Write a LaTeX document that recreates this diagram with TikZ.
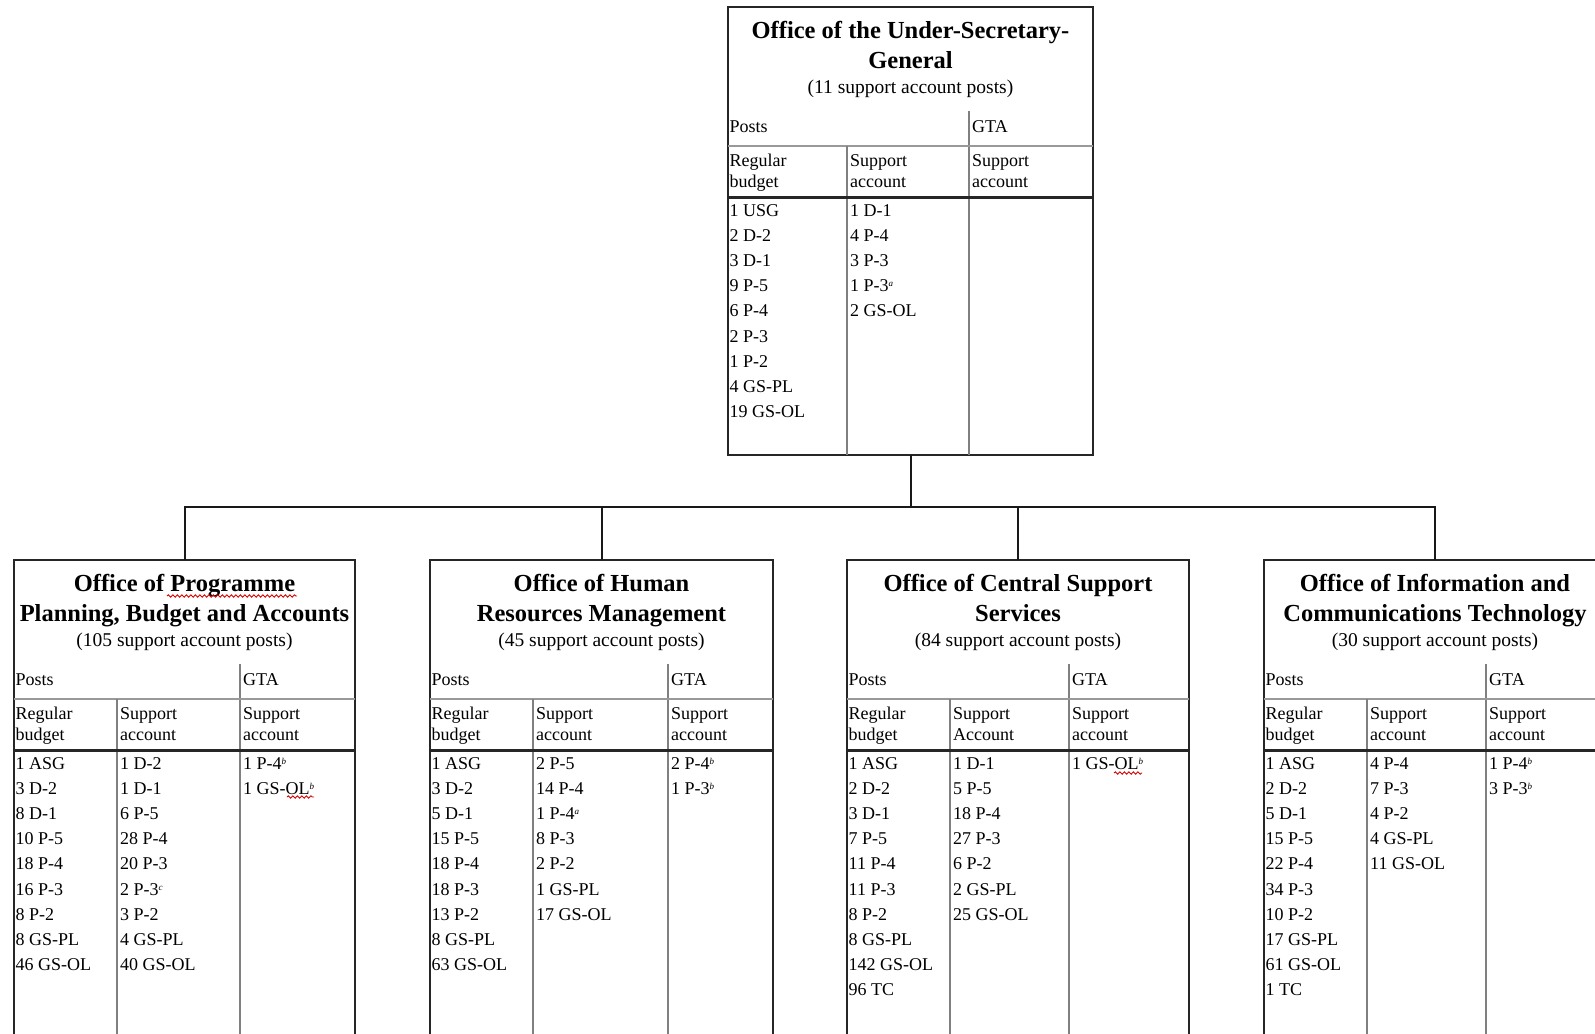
\documentclass[tikz,border=0pt]{standalone}
\usepackage{fontspec}
\setmainfont{Liberation Serif}
\usetikzlibrary{fit,decorations.pathmorphing}

% footnote marker after a grade
\newcommand\fnm[1]{\raisebox{5bp}{\fontsize{9bp}{9bp}\selectfont\itshape #1}}

\tikzset{
  frame/.style={draw=black!85, line width=2bp, inner sep=0pt, outer sep=0pt},
  divider/.style={draw=black!50, line width=2bp},
  rowline/.style={draw=black!40, line width=1.5bp},
  heavy/.style={draw=black!85, line width=3bp},
  link/.style={draw=black!90, line width=2bp},
  cell/.style={inner sep=0pt, anchor=base west, font=\fontsize{18bp}{20bp}\selectfont},
  ttl/.style={inner sep=0pt, anchor=base, font=\fontsize{24.5bp}{30bp}\selectfont\bfseries},
  sub/.style={inner sep=0pt, anchor=base, font=\fontsize{19.5bp}{24bp}\selectfont},
  spell/.style={draw=red!85!black, line width=0.9bp, decorate,
    decoration={snake, amplitude=1.2bp, segment length=4.5bp}},
}

% #1 name, #2 left, #3 first divider, #4 second divider, #5 right, #6 top, #7 bottom, #8 header word
\newcommand\officeframe[8]{%
  \node[frame, fit={(#2,#6) (#5,#7)}] (#1) {};
  \draw[divider] (#4,{#6+104}) -- (#4,#7);
  \draw[rowline] (#2,{#6+139}) -- (#5,{#6+139});
  \draw[divider] (#3,{#6+139}) -- (#3,#7);
  \draw[heavy] (#2,{#6+190}) -- (#5,{#6+190});
  \node[cell] (#1-posts) at ({#2+1.5},{#6+125}) {Posts};
  \node[cell] (#1-gta) at ({#4+3},{#6+125}) {GTA};
  \node[cell] (#1-rb1) at ({#2+1.5},{#6+159}) {Regular};
  \node[cell] (#1-rb2) at ({#2+1.5},{#6+180}) {budget};
  \node[cell] (#1-sa1) at ({#3+3},{#6+159}) {Support};
  \node[cell] (#1-sa2) at ({#3+3},{#6+180}) {#8};
  \node[cell] (#1-ga1) at ({#4+3},{#6+159}) {Support};
  \node[cell] (#1-ga2) at ({#4+3},{#6+180}) {account};
}

% #1 name, #2 centre x, #3 top, #4 first line, #5 second line, #6 post count line
\newcommand\officetitle[6]{%
  \node[ttl] (#1-t1) at (#2,{#3+31}) {#4};
  \node[ttl] (#1-t2) at (#2,{#3+61}) {#5};
  \node[sub] (#1-t3) at (#2,{#3+86}) {#6};
}

% #1 name, #2 x, #3 top, #4 entries
\newcommand\officecol[4]{%
  \foreach \t [count=\i] in {#4} {\node[cell] (#1-\i) at (#2,{#3+209+(\i-1)*25.2}) {\t};}
}

\begin{document}
\begin{tikzpicture}[x=1bp, y=-1bp]
  \useasboundingbox (0,0) rectangle (1595,1033);
  \clip (0,0) rectangle (1595,1033);

  % Under-Secretary-General
  \officeframe{usg}{728}{847}{969}{1093}{7}{455}{account}
  \officetitle{usg}{910.5}{7}{Office of the Under-Secretary-}{General}{(11 support account posts)}
  \officecol{usg-rb}{729.5}{7}{1 USG,2 D-2,3 D-1,9 P-5,6 P-4,2 P-3,1 P-2,4 GS-PL,19 GS-OL}
  \officecol{usg-sa}{850}{7}{1 D-1,4 P-4,3 P-3,1 P-3\fnm{a},2 GS-OL}

  % Programme Planning, Budget and Accounts
  \officeframe{b1}{14}{117}{240}{355}{560}{1045}{account}
  \officetitle{b1}{184.5}{560}{Office of Programme}{Planning, Budget and Accounts}{(105 support account posts)}
  \officecol{b1-rb}{15.5}{560}{1 ASG,3 D-2,8 D-1,10 P-5,18 P-4,16 P-3,8 P-2,8 GS-PL,46 GS-OL}
  \officecol{b1-sa}{120}{560}{1 D-2,1 D-1,6 P-5,28 P-4,20 P-3,2 P-3\fnm{c},3 P-2,4 GS-PL,40 GS-OL}
  \officecol{b1-ga}{243}{560}{1 P-4\fnm{b},1 GS-OL\fnm{b}}
  \draw[spell] (167,596) -- (297,596);
  \draw[spell] (287,797) -- (314,797);

  % Human Resources Management
  \officeframe{b2}{430}{533}{668}{773}{560}{1045}{account}
  \officetitle{b2}{601.5}{560}{Office of Human}{Resources Management}{(45 support account posts)}
  \officecol{b2-rb}{431.5}{560}{1 ASG,3 D-2,5 D-1,15 P-5,18 P-4,18 P-3,13 P-2,8 GS-PL,63 GS-OL}
  \officecol{b2-sa}{536}{560}{2 P-5,14 P-4,1 P-4\fnm{a},8 P-3,2 P-2,1 GS-PL,17 GS-OL}
  \officecol{b2-ga}{671}{560}{2 P-4\fnm{b},1 P-3\fnm{b}}

  % Central Support Services
  \officeframe{b3}{847}{950}{1069}{1189}{560}{1045}{Account}
  \officetitle{b3}{1018}{560}{Office of Central Support}{Services}{(84 support account posts)}
  \officecol{b3-rb}{848.5}{560}{1 ASG,2 D-2,3 D-1,7 P-5,11 P-4,11 P-3,8 P-2,8 GS-PL,142 GS-OL,96 TC}
  \officecol{b3-sa}{953}{560}{1 D-1,5 P-5,18 P-4,27 P-3,6 P-2,2 GS-PL,25 GS-OL}
  \officecol{b3-ga}{1072}{560}{1 GS-OL\fnm{b}}
  \draw[spell] (1114,773) -- (1142,773);

  % Information and Communications Technology
  \officeframe{b4}{1264}{1367}{1486}{1606}{560}{1045}{account}
  \officetitle{b4}{1435}{560}{Office of Information and}{Communications Technology}{(30 support account posts)}
  \officecol{b4-rb}{1265.5}{560}{1 ASG,2 D-2,5 D-1,15 P-5,22 P-4,34 P-3,10 P-2,17 GS-PL,61 GS-OL,1 TC}
  \officecol{b4-sa}{1370}{560}{4 P-4,7 P-3,4 P-2,4 GS-PL,11 GS-OL}
  \officecol{b4-ga}{1489}{560}{1 P-4\fnm{b},3 P-3\fnm{b}}

  % reporting lines
  \path (usg.south) ++(0,52) coordinate (hub);
  \draw[link] (usg.south) -- (hub);
  \foreach \b in {b1,b2,b3,b4} \draw[link] (hub) -| (\b.north);
\end{tikzpicture}
\end{document}
